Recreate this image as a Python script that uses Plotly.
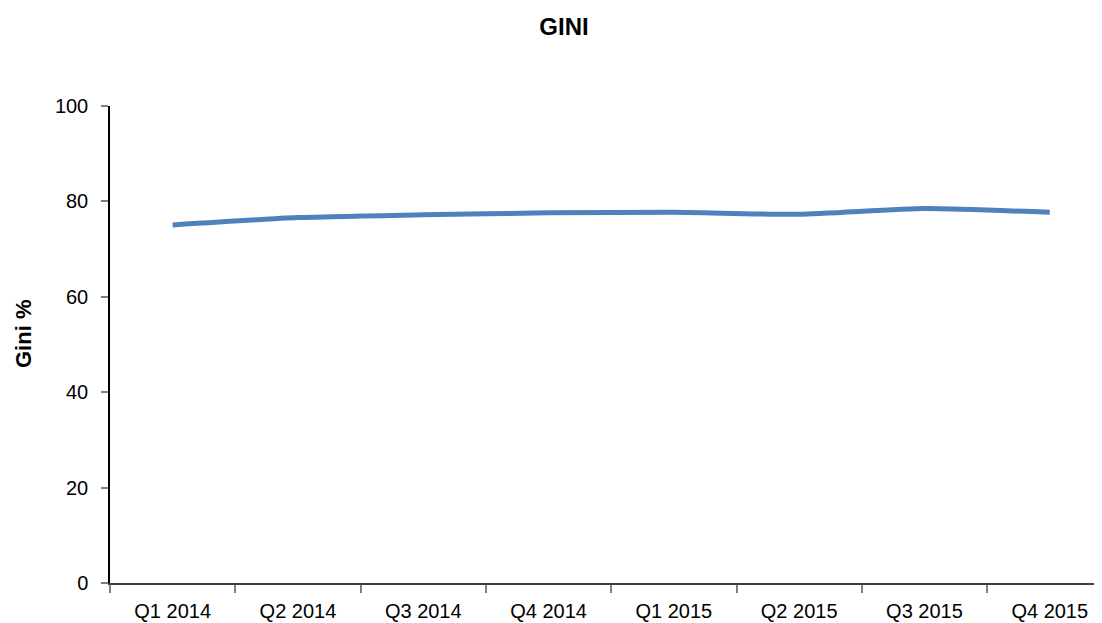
import plotly.graph_objects as go

quarters = ["Q1 2014", "Q2 2014", "Q3 2014", "Q4 2014", "Q1 2015", "Q2 2015", "Q3 2015", "Q4 2015"]
gini = [75.05, 76.6, 77.2, 77.6, 77.7, 77.3, 78.5, 77.7]
y_ticks = [0, 20, 40, 60, 80, 100]

FONT = "Liberation Sans Narrow, Arial Narrow, Liberation Sans, Arial, sans-serif"

# page body has an 8px margin, so the figure is sized/margined to compensate
W, H = 1094, 615
L, T, B = 102, 98, 40
plot_w, plot_h = W - L, H - T - B

fig = go.Figure()
fig.add_trace(go.Scatter(
    x=quarters, y=gini, mode="lines",
    line=dict(color="#4F81BD", width=5, shape="spline", smoothing=0.6),
    hoverinfo="x+y", showlegend=False,
))

fig.update_layout(
    width=W, height=H,
    margin=dict(l=L, r=0, t=T, b=B),
    plot_bgcolor="white", paper_bgcolor="white",
    title=dict(text="<b>GINI</b>", x=(564 - 8) / W, xref="container", xanchor="center",
               y=1 - 19 / H, yref="container", yanchor="middle",
               font=dict(family=FONT, size=24, color="black")),
    font=dict(family=FONT, size=20, color="black"),
)

fig.add_annotation(
    text="<b>Gini %</b>", textangle=-90, showarrow=False,
    xref="paper", yref="paper",
    x=(23 - 110) / plot_w, y=(583 - 334) / plot_h,
    xanchor="center", yanchor="middle",
    font=dict(family=FONT, size=22, color="black"),
)

fig.update_xaxes(
    type="category", range=[-0.5, 7.417],
    showline=True, linecolor="#404040", linewidth=1.5,
    ticks="outside", tickson="boundaries", ticklen=8, tickcolor="#808080", tickwidth=1.5,
    showgrid=False, ticklabelstandoff=9,
    tickfont=dict(family=FONT, size=20, color="black"),
)
fig.update_yaxes(
    range=[0, 100], tickvals=y_ticks,
    showline=True, linecolor="black", linewidth=1.5,
    ticks="outside", ticklen=7, tickcolor="#808080", tickwidth=1.5,
    showgrid=False, zeroline=False, ticklabelstandoff=9,
    tickfont=dict(family=FONT, size=20, color="black"),
)

fig.write_html("out.html")
